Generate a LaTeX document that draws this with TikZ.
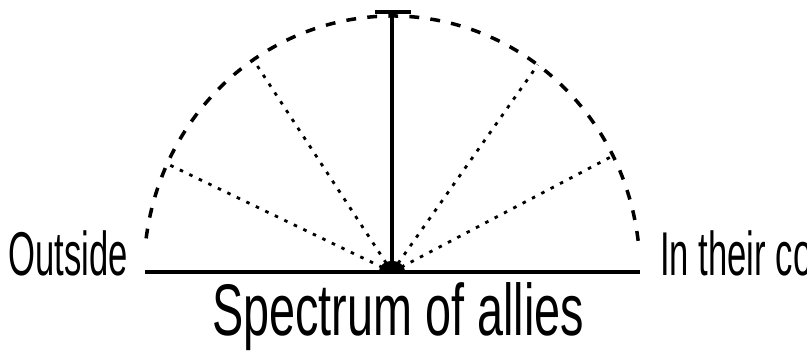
\documentclass[tikz,border=0pt]{standalone}
\usepackage{fontspec}
\usepackage{tikz}
\usetikzlibrary{positioning}
\newfontfamily\sidefont{Liberation Sans}[FakeStretch=0.56]
\newfontfamily\titlefont{Liberation Sans}[FakeStretch=0.64]

\begin{document}
\begin{tikzpicture}[
  rim/.style={line width=2.5pt, dash pattern=on 7pt off 8pt},
  spoke/.style={line width=2pt, dash pattern=on 2.5pt off 5pt},
  axis/.style={line width=3pt},
  sidelbl/.style={font=\sidefont\fontsize{44}{44}\selectfont, inner sep=0pt},
  titlelbl/.style={font=\titlefont\fontsize{52}{52}\selectfont, inner sep=0pt}
]
\useasboundingbox (-9.8,-1.975) rectangle (10.375,6.8);

% ---- Base line ----
\coordinate (o) at (0,0);
\coordinate (west) at (-6.175,0);
\coordinate (east) at (6.2,0);
\draw[axis] (west) -- (east);

% ---- Half circle ----
\draw[rim] (7:6.2 and 6.4) arc (7:173:6.2 and 6.4);

% ---- Spokes ----
\foreach \a/\n in {27/s1, 54/s2, 124/s3, 155/s4} {
  \coordinate (\n) at (\a:6.2 and 6.4);
  \draw[spoke] (o) -- (\n);
}

% ---- Middle ----
\coordinate (top) at (0,6.5);
\coordinate (topl) at (-0.425,6.5);
\coordinate (topr) at (0.475,6.5);
\draw[axis] (o) -- (top);
\draw[axis] (topl) -- (topr);
\fill (-0.33,0) arc (180:0:0.33 and 0.28) -- cycle;

% ---- Labels ----
\node[sidelbl, anchor=base east] (outside) at (-6.6,-0.075) {Outside};
\node[sidelbl, anchor=base west] (inside) at (6.7,-0.075) {In their corner};
\node[titlelbl, anchor=base] (title) at (0.15,-1.575) {Spectrum of allies};

\end{tikzpicture}
\end{document}
